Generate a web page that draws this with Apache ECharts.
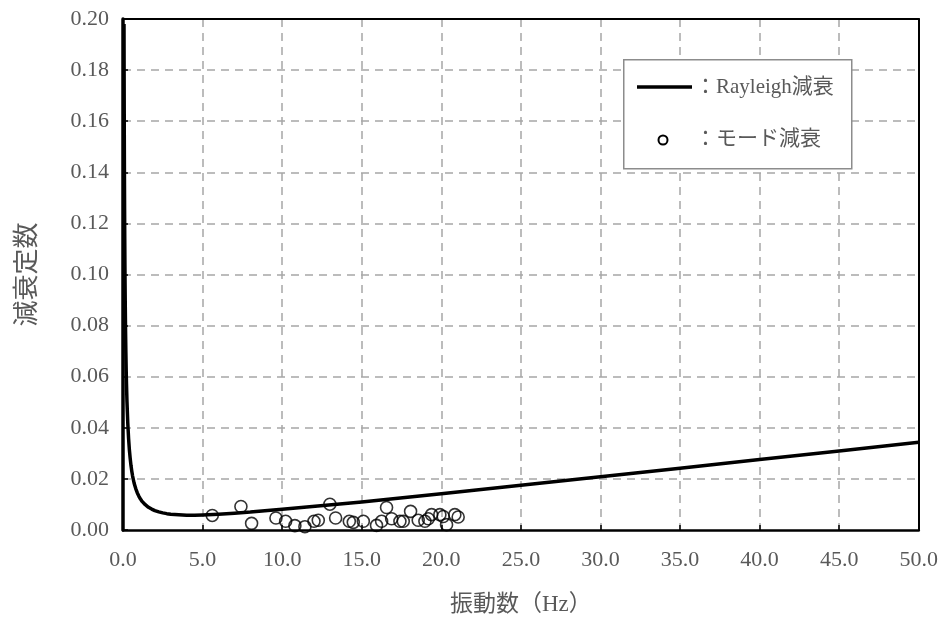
<!DOCTYPE html>
<html>
<head>
<meta charset="utf-8">
<script src="https://cdn.jsdelivr.net/npm/echarts@6/dist/echarts.min.js"></script>
<style>html,body{margin:0;padding:0;background:#fff}#c{width:941px;height:621px}</style>
</head>
<body>
<div id="c"></div>
<script>
// Rayleigh damping curve (frequency Hz, damping ratio)
const curveFreq = [0.063,0.07,0.08,0.09,0.1,0.11,0.12,0.13,0.14,0.16,0.18,0.2,0.22,0.25,0.3,0.35,0.4,0.45,0.5,0.55,0.6,0.7,0.8,0.9,1.0,1.1,1.2,1.4,1.6,1.8,2.0,2.25,2.5,2.75,3.0,3.5,4.0,4.5,5.0,6.0,7.0,8.0,10.0,15.0,20.0,25.0,30.0,35.0,40.0,45.0,50.0];
const curveDamp = [0.198,0.1786,0.1563,0.1389,0.1251,0.1137,0.1042,0.0962,0.0894,0.0782,0.0696,0.0626,0.0570,0.0502,0.0419,0.0359,0.0315,0.0281,0.0253,0.0231,0.0212,0.0183,0.0162,0.0145,0.0132,0.0121,0.0112,0.0099,0.0089,0.0082,0.0076,0.0071,0.0067,0.0064,0.0062,0.0060,0.0058,0.0058,0.0059,0.0062,0.0066,0.0070,0.0081,0.0110,0.0142,0.0175,0.0208,0.0242,0.0276,0.0309,0.0343];
// Modal damping points
const modeFreq = [5.61,7.41,8.08,9.61,10.22,10.80,11.43,12.0,12.27,13.0,13.36,14.22,14.47,15.10,15.93,16.25,16.56,16.88,17.40,17.61,18.07,18.55,18.97,19.18,19.39,19.91,20.12,20.33,20.85,21.06];
const modeDamp = [0.0057,0.0092,0.0026,0.0047,0.0034,0.0017,0.0013,0.0034,0.0038,0.0101,0.0047,0.0034,0.0030,0.0034,0.0018,0.0034,0.0088,0.0044,0.0034,0.0034,0.0073,0.0038,0.0034,0.0044,0.0060,0.0060,0.0053,0.0021,0.0060,0.0051];
const xTitle = '振動数（Hz）';
const yTitle = '減衰定数';
const legendNames = ['：Rayleigh減衰', '：モード減衰'];

const FONT = '"Liberation Serif", "Noto Sans CJK JP", serif';
const GRAY = '#595959';
const split = {show: true, showMinLine: false, showMaxLine: false, lineStyle: {color: '#a6a6a6', type: [8, 6], width: 1.5}};

const chart = echarts.init(document.getElementById('c'), null, {renderer: 'canvas'});
chart.setOption({
  animation: false,
  backgroundColor: '#fff',
  grid: {left: 123, top: 19, right: 22, bottom: 89},
  xAxis: [{
    type: 'value', min: 0, max: 50, interval: 5,
    name: xTitle, nameLocation: 'middle', nameGap: 63,
    nameTextStyle: {fontFamily: FONT, fontSize: 23, color: GRAY},
    axisLine: {show: true, onZero: false, lineStyle: {color: '#000', width: 2.5}},
    axisTick: {show: true, inside: true, length: 5, lineStyle: {color: '#000', width: 1.5}},
    axisLabel: {formatter: v => v.toFixed(1), fontFamily: FONT, fontSize: 22, color: GRAY, margin: 19},
    splitLine: split, z: 3
  }, {
    type: 'value', min: 0, max: 50, position: 'top',
    axisLine: {show: true, onZero: false, lineStyle: {color: '#000', width: 2}},
    axisTick: {show: false}, axisLabel: {show: false}, splitLine: {show: false}, z: 5
  }],
  yAxis: [{
    type: 'value', min: 0, max: 0.2, interval: 0.02,
    name: yTitle, nameLocation: 'middle', nameGap: 82, nameRotate: 90,
    nameTextStyle: {fontFamily: FONT, fontSize: 26, color: GRAY},
    axisLine: {show: true, onZero: false, lineStyle: {color: '#000', width: 3.5}},
    axisTick: {show: true, inside: true, length: 5, lineStyle: {color: '#000', width: 1.5}},
    axisLabel: {formatter: v => v.toFixed(2), fontFamily: FONT, fontSize: 22, color: GRAY, margin: 14},
    splitLine: split, z: 3
  }, {
    type: 'value', min: 0, max: 0.2, position: 'right',
    axisLine: {show: true, onZero: false, lineStyle: {color: '#000', width: 2}},
    axisTick: {show: false}, axisLabel: {show: false}, splitLine: {show: false}, z: 5
  }],
  series: [
    {
      name: legendNames[0], type: 'line', showSymbol: false, smooth: false,
      data: curveFreq.map((f, i) => [f, curveDamp[i]]),
      lineStyle: {color: '#000', width: 3.5, join: 'round'}, z: 3
    },
    {
      name: legendNames[1], type: 'scatter', symbol: 'circle', symbolSize: 12,
      data: modeFreq.map((f, i) => [f, modeDamp[i]]),
      itemStyle: {color: 'transparent', borderColor: '#000', borderWidth: 1.6}, z: 4
    }
  ],
  graphic: [
    {type: 'rect', left: 623, top: 59, shape: {width: 228, height: 109}, style: {fill: '#fff', stroke: '#8c8c8c', lineWidth: 1.5}, z: 10},
    {type: 'line', shape: {x1: 637, y1: 87, x2: 692, y2: 87}, style: {stroke: '#000', lineWidth: 3.5}, z: 11},
    {type: 'circle', shape: {cx: 663, cy: 140, r: 4.5}, style: {fill: 'transparent', stroke: '#000', lineWidth: 2}, z: 11},
    {type: 'text', left: 695, top: 77, style: {text: legendNames[0], font: '21px ' + FONT, fill: GRAY}, z: 11},
    {type: 'text', left: 695, top: 129, style: {text: legendNames[1], font: '21px ' + FONT, fill: GRAY}, z: 11}
  ]
});
</script>
</body>
</html>
